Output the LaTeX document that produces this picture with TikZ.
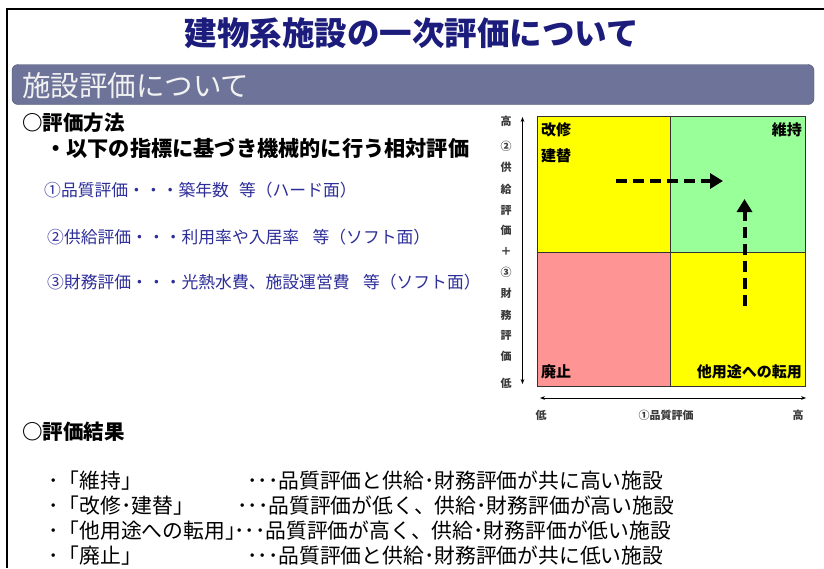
\documentclass[tikz,border=0pt]{standalone}
\usepackage{fontspec}
\setmainfont{Noto Sans CJK JP}
\usetikzlibrary{arrows.meta}
\definecolor{titlec}{HTML}{1C1C7C}
\definecolor{barc}{HTML}{6E7499}
\definecolor{itemc}{HTML}{2E2E9A}
\definecolor{qyel}{HTML}{FFFF00}
\definecolor{qgrn}{HTML}{99FF99}
\definecolor{qred}{HTML}{FF9494}
\definecolor{axc}{HTML}{3A3A3A}
\tikzset{
  quad/.style={draw=black!80, line width=0.7pt},
  qlab/.style={font=\fontsize{15}{15}\selectfont\bfseries, inner sep=0pt},
  axlab/.style={font=\fontsize{11}{11}\selectfont\bfseries, text=axc, inner sep=0pt},
  head/.style={font=\fontsize{20.5}{20.5}\selectfont\bfseries, anchor=west, inner sep=0pt},
  item/.style={font=\fontsize{16.8}{16.8}\selectfont, text=itemc, anchor=west, inner sep=0pt},
  res/.style={font=\fontsize{20.8}{20.8}\selectfont, anchor=west, inner sep=0pt},
  bigdash/.style={line width=4pt, dash pattern=on 11pt off 6pt, -{Triangle[length=13pt,width=15pt]}},
  axarrow/.style={line width=0.8pt, {Stealth[length=5pt]}-{Stealth[length=5pt]}}
}
\begin{document}
\begin{tikzpicture}[x=1pt,y=-1pt]
\useasboundingbox (0,0) rectangle (824,568);
\fill[white] (0,0) rectangle (824,568);
% frame
\draw[line width=1.2pt] (7,568) -- (7,9) -- (824,9);
% title
\node[font=\fontsize{32.5}{32.5}\selectfont\bfseries, text=titlec] (title) at (412,33) {建物系施設の一次評価について};
% header bar
\node[fill=barc, draw=barc!70!black, rounded corners=6pt, minimum width=802pt, minimum height=40pt, inner sep=0pt] (bar) at (413,84.5) {};
\node[font=\fontsize{28.5}{28.5}\selectfont, text=white!95!black, anchor=west, inner sep=0pt] (bartext) at (22,86) {施設評価について};
% left text
\node[head] (m1) at (22,123) {○評価方法};
\node[font=\fontsize{21.2}{21.2}\selectfont\bfseries, anchor=west, inner sep=0pt] (m2) at (45,148) {・以下の指標に基づき機械的に行う相対評価};
\node[item] (i1) at (44,190) {①品質評価・・・築年数\hspace{0.6em}等（ハード面）};
\node[item] (i2) at (47,237) {②供給評価・・・利用率や入居率\hspace{0.8em}等（ソフト面）};
\node[item] (i3) at (47,282) {③財務評価・・・光熱水費、施設運営費\hspace{0.8em}等（ソフト面）};
\node[head] (r0) at (22,432) {○評価結果};
\node[res] (a1) at (48,481) {･「維持」};
\node[res] (b1) at (247,481) {･･･品質評価と供給･財務評価が共に高い施設};
\node[res] (a2) at (48,506) {･「改修･建替」};
\node[res] (b2) at (237,506) {･･･品質評価が低く、供給･財務評価が高い施設};
\node[res] (a3) at (48,531) {･「他用途への転用」};
\node[res] (b3) at (234,531) {･･･品質評価が高く、供給･財務評価が低い施設};
\node[res] (a4) at (48,556) {･「廃止」};
\node[res] (b4) at (247,556) {･･･品質評価と供給･財務評価が共に低い施設};
% quadrants
\draw[quad, fill=qyel] (537,116) rectangle (670,252);
\draw[quad, fill=qgrn] (670,116) rectangle (805,252);
\draw[quad, fill=qred] (537,252) rectangle (670,386);
\draw[quad, fill=qyel] (670,252) rectangle (805,386);
\node[qlab, anchor=west] (q1) at (541,130) {改修};
\node[qlab, anchor=west] (q2) at (541,156) {建替};
\node[qlab, anchor=east] (q3) at (802,130) {維持};
\node[qlab, anchor=west] (q4) at (541,372) {廃止};
\node[qlab, anchor=east] (q5) at (802,372) {他用途への転用};
% dashed arrows
\coordinate (h0) at (616,181);
\coordinate (h1) at (723,181);
\coordinate (v0) at (744.5,306);
\coordinate (v1) at (744.5,199);
\draw[bigdash] (h0) -- (h1);
\draw[bigdash] (v0) -- (v1);
% axes
\coordinate (ya) at (522.5,117);
\coordinate (yb) at (522.5,384);
\coordinate (xa) at (540,398);
\coordinate (xb) at (806,398);
\draw[axarrow] (ya) -- (yb);
\draw[axarrow] (xa) -- (xb);
\foreach \t/\yy [count=\k] in {高/121,②/146,供/167,給/189,評/210,価/230,＋/251.5,③/272.5,財/293,務/315,評/335,価/356.5,低/383}{
  \node[axlab] (yl\k) at (506,\yy) {\t};
}
\node[axlab] (xl1) at (541,415) {低};
\node[axlab] (xl2) at (666,415) {①品質評価};
\node[axlab] (xl3) at (798,415) {高};
\end{tikzpicture}
\end{document}
